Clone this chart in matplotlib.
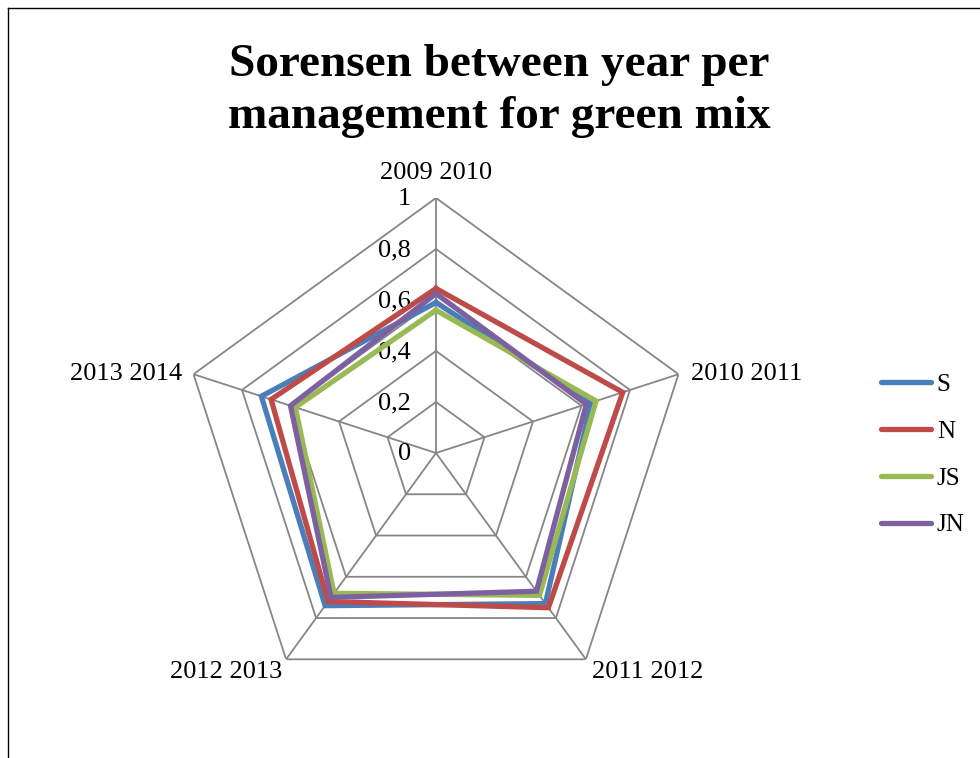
import numpy as np
import matplotlib
matplotlib.use("Agg")
import matplotlib.pyplot as plt
from matplotlib.lines import Line2D

plt.rcParams['font.family'] = ['Liberation Serif', 'DejaVu Serif']

periods = ["2009 2010", "2010 2011", "2011 2012", "2012 2013", "2013 2014"]
s_vals = [0.59, 0.64, 0.73, 0.74, 0.72]
n_vals = [0.645, 0.77, 0.75, 0.72, 0.68]
js_vals = [0.56, 0.66, 0.69, 0.68, 0.58]
jn_vals = [0.625, 0.62, 0.67, 0.70, 0.60]
series_names = ["S", "N", "JS", "JN"]
levels = [0, 0.2, 0.4, 0.6, 0.8, 1]
level_labels = ["0", "0,2", "0,4", "0,6", "0,8", "1"]

colors = ["#4A7EBB", "#BE4B48", "#98B954", "#7D60A0"]
grid_col = "#868686"

W, H = 980, 758
fig = plt.figure(figsize=(W / 100, H / 100), dpi=100)

# outer chart frame (runs off right and bottom edges)
fig.add_artist(Line2D([8 / W, 8 / W], [1 - 8 / H, -0.01], transform=fig.transFigure,
                      color="black", lw=1.0))
fig.add_artist(Line2D([8 / W, 1.01], [1 - 8 / H, 1 - 8 / H], transform=fig.transFigure,
                      color="black", lw=1.0))

fig.text(499 / W, 1 - 91 / H, "Sorensen between year per\nmanagement for green mix",
         ha="center", va="center", fontsize=34, fontweight="bold", linespacing=1.3)

cx, cy, R = 436, 453, 255
ax = fig.add_axes([(cx - R) / W, (H - cy - R) / H, 2 * R / W, 2 * R / H], projection="polar")
ax.set_theta_offset(np.pi / 2)
ax.set_theta_direction(-1)
ax.set_ylim(0, 1)
ax.grid(False)
ax.spines["polar"].set_visible(False)
ax.set_xticks([])
ax.set_yticks([])
ax.patch.set_visible(False)

n = len(periods)
theta = np.arange(n) * 2 * np.pi / n
theta_closed = np.append(theta, theta[0])

# pentagon grid and spokes
for lv in levels[1:]:
    ax.plot(theta_closed, [lv] * (n + 1), color=grid_col, lw=1.3, zorder=1)
for t in theta:
    ax.plot([t, t], [0, 1], color=grid_col, lw=1.3, zorder=1)

# radial value labels along the top spoke
for lv, lab in zip(levels, level_labels):
    ax.annotate(lab, xy=(0, lv), xytext=(-25, -1), textcoords="offset pixels",
                ha="right", va="center", fontsize=19)

# category labels at the spoke ends
offsets = [(0, 25, "center", "center"), (12, 0, "left", "center"),
           (6, -13, "left", "center"), (-4, -13, "right", "center"),
           (-11, 0, "right", "center")]
for t, lab, (dx, dy, ha, va) in zip(theta, periods, offsets):
    ax.annotate(lab, xy=(t, 1), xytext=(dx, dy), textcoords="offset pixels",
                ha=ha, va=va, fontsize=19, annotation_clip=False)

for vals, name, col in zip([s_vals, n_vals, js_vals, jn_vals], series_names, colors):
    ax.plot(theta_closed, vals + vals[:1], color=col, lw=3.8, label=name,
            solid_joinstyle="miter", zorder=3)

leg_handles = [Line2D([], [], color=c, lw=3.8, solid_capstyle="round") for c in colors]
fig.legend(leg_handles, series_names, loc="center left",
           bbox_to_anchor=(868 / W, 1 - 455 / H), frameon=False, fontsize=18,
           handlelength=2.0, handletextpad=0.25, labelspacing=0.97, borderpad=0)

fig.savefig("out.png", dpi=100)
